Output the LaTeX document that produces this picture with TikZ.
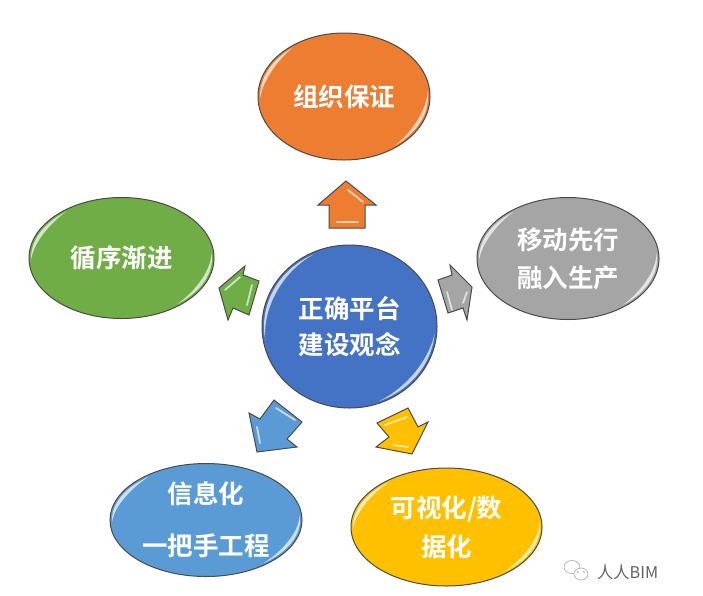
\documentclass[tikz,border=0pt]{standalone}
\usepackage{fontspec}
\setmainfont{Noto Sans CJK SC}[BoldFont={Noto Sans CJK SC Bold}]
\usetikzlibrary{shapes.geometric}
\definecolor{cOrange}{HTML}{ED7D31}
\definecolor{cBlue}{HTML}{4472C4}
\definecolor{cGreen}{HTML}{70AD47}
\definecolor{cGrey}{HTML}{A5A5A5}
\definecolor{cSky}{HTML}{5B9BD5}
\definecolor{cGold}{HTML}{FFC000}
\definecolor{cEdge}{HTML}{4A4A48}
\tikzset{
  bubble/.style={ellipse,draw=cEdge,line width=1pt,inner sep=0pt,text=white,align=center,font=\bfseries\fontsize{25.5}{#1}\selectfont},
  bubble/.default=38,
  blockarrow/.style={draw=cEdge,line width=1pt,line join=miter},
  glint/.style={draw=none,fill=white,fill opacity=.7},
  arrowglint/.style={line cap=round,white,opacity=.65,line width=1.8pt}
}
% \glintarc{cx}{cy}{rx}{ry}{a1}{a2}: tapered light lune following an ellipse
\newcommand{\glintarc}[6]{%
  \fill[glint,shift={(#1,#2)}] plot[smooth,domain=#5:#6,samples=24] ({(#3-2)*cos(\x)},{(#4-2)*sin(\x)})
   -- plot[smooth,domain=#6:#5,samples=24] ({(#3-2-3.5*sin((\x-#5)/(#6-#5)*180))*cos(\x)},{(#4-2-3.5*sin((\x-#5)/(#6-#5)*180))*sin(\x)}) -- cycle;}
\begin{document}
\begin{tikzpicture}[x=1pt,y=-1pt]
\useasboundingbox (0,0) rectangle (703,595);
% bubbles
\node[bubble,fill=cOrange,minimum width=172pt,minimum height=127pt] (org) at (344,96.5) {组织保证};
\node[bubble,fill=cGreen,minimum width=185pt,minimum height=121pt] (steady) at (121.5,258) {循序渐进};
\node[bubble=38,fill=cGrey,minimum width=182pt,minimum height=122pt] (move) at (568,258.5) {移动先行\\融入生产};
\node[bubble=36,fill=cBlue,minimum width=175pt,minimum height=163pt] (core) at (349.5,326.5) {正确平台\\建设观念};
\node[bubble=52,fill=cSky,minimum width=192pt,minimum height=113pt] (info) at (206,520) {信息化\\一把手工程};
\node[bubble=39,fill=cGold,minimum width=191pt,minimum height=118pt] (vis) at (446.5,527) {可视化/数\\据化};
% glints
\glintarc{344}{96.5}{86}{63.5}{178}{232}
\glintarc{344}{96.5}{86}{63.5}{-5}{52}
\glintarc{121.5}{258}{92.5}{60.5}{178}{232}
\glintarc{121.5}{258}{92.5}{60.5}{-5}{52}
\glintarc{568}{258.5}{91}{61}{178}{232}
\glintarc{568}{258.5}{91}{61}{-5}{52}
\glintarc{349.5}{326.5}{87.5}{81.5}{170}{245}
\glintarc{349.5}{326.5}{87.5}{81.5}{5}{70}
\glintarc{206}{520}{96}{56.5}{178}{232}
\glintarc{206}{520}{96}{56.5}{-5}{52}
\glintarc{446.5}{527}{95.5}{59}{178}{232}
\glintarc{446.5}{527}{95.5}{59}{-5}{52}
% block arrows
\draw[blockarrow,fill=cOrange] (346,181) -- (376,205) -- (365,205) -- (365,228) -- (329,228) -- (329,205) -- (318,205) -- cycle;
\draw[blockarrow,fill=cGreen] (219,288) -- (245,266) -- (243,275) -- (259,281) -- (249,315) -- (233,308) -- (228,320) -- cycle;
\draw[blockarrow,fill=cGrey] (450,265) -- (472,287) -- (467,320) -- (463,308) -- (448,313) -- (438,280) -- (452,275) -- cycle;
\draw[blockarrow,fill=cSky] (257,452) -- (249,413) -- (260,419) -- (274,400) -- (302,422) -- (287,439) -- (297,447) -- cycle;
\draw[blockarrow,fill=cGold] (376,447) -- (389,437) -- (377,423) -- (408,408) -- (418,427) -- (428,422) -- (412,454) -- cycle;
% arrow glints
\begin{scope}[arrowglint]
\draw (348,190) -- (363,202);
\draw (337,222) -- (358,222);
\draw (225,290) -- (240,277);
\draw (252,285) -- (247,305);
\draw (447,292) -- (452,310);
\draw (467,292) -- (463,303);
\draw (257,427) -- (260,443);
\draw (276,408) -- (295,420);
\draw (385,425) -- (407,417);
\draw (393,445) -- (408,447);
\end{scope}
% watermark
\begin{scope}[draw=black!30,line width=.7pt]
\draw[fill=white] (572,567) ellipse [x radius=8,y radius=6.5];
\draw[fill=white] (581,574) ellipse [x radius=7,y radius=6];
\fill[black!40] (578,572) circle (.8) (584,572) circle (.8);
\end{scope}
\node[text=black!62,font=\fontsize{16.2}{18}\selectfont,inner sep=0pt,anchor=west] (mark) at (597,572) {人人BIM};
\end{tikzpicture}
\end{document}
